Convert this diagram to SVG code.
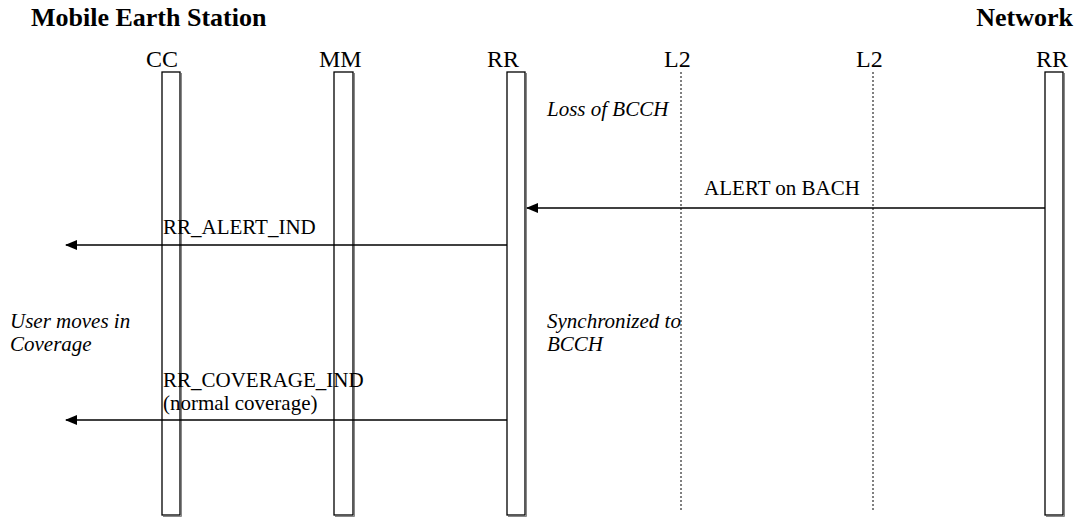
<svg xmlns="http://www.w3.org/2000/svg" width="1075" height="517" viewBox="0 0 1075 517">
<style>
.t{font-family:'Liberation Serif','Times New Roman',serif;fill:#000}
.h{font-size:26px;font-weight:bold}
.e{font-size:24px}
.m{font-size:21px}
.i{font-size:21px;font-style:italic}
.box{fill:#fff;stroke:#000;stroke-width:1.3}
.sh{fill:none;stroke:#888;stroke-width:1}
.dot{stroke:#000;stroke-width:1;stroke-dasharray:2,2}
.msg{stroke:#000;stroke-width:1.5;fill:none;marker-end:url(#ah)}
</style>
<defs>
<marker id="ah" markerWidth="12" markerHeight="10" refX="11" refY="5" orient="auto" markerUnits="userSpaceOnUse">
<path d="M0,0 L12,5 L0,10 z" fill="#000"/>
</marker>
</defs>
<rect width="1075" height="517" fill="#fff"/>
<text class="t h" x="31" y="26">Mobile Earth Station</text>
<text class="t h" x="1073" y="26" text-anchor="end">Network</text>
<g id="cc"><text class="t e" x="146" y="67">CC</text><path class="sh" d="M163,516.5 H181.5 V73"/><rect class="box" x="162" y="72" width="18" height="443"/></g>
<g id="mm"><text class="t e" x="319" y="67">MM</text><path class="sh" d="M335,516.5 H354.5 V73"/><rect class="box" x="334" y="72" width="19" height="443"/></g>
<g id="rr1"><text class="t e" x="487" y="67">RR</text><path class="sh" d="M508,516.5 H526.5 V73"/><rect class="box" x="507" y="72" width="18" height="443"/></g>
<g id="l2a"><text class="t e" x="664" y="67">L2</text><line class="dot" x1="681" y1="72" x2="681" y2="512"/></g>
<g id="l2b"><text class="t e" x="856" y="67">L2</text><line class="dot" x1="873" y1="72" x2="873" y2="512"/></g>
<g id="rr2"><text class="t e" x="1036" y="67">RR</text><path class="sh" d="M1046,516.5 H1064.5 V73"/><rect class="box" x="1045" y="72" width="18" height="443"/></g>
<g id="notes">
<text class="t i" x="547" y="116">Loss of BCCH</text>
<text class="t i" x="547" y="328">Synchronized to</text>
<text class="t i" x="547" y="351">BCCH</text>
<text class="t i" x="10" y="328">User moves in</text>
<text class="t i" x="10" y="351">Coverage</text>
</g>
<g id="connectors">
<line class="msg" x1="1045" y1="208" x2="527" y2="208"/>
<text class="t m" x="782" y="195" text-anchor="middle">ALERT on BACH</text>
<line class="msg" x1="507" y1="245" x2="66" y2="245"/>
<text class="t m" x="163" y="234">RR_ALERT_IND</text>
<line class="msg" x1="507" y1="420" x2="66" y2="420"/>
<text class="t m" x="163" y="387">RR_COVERAGE_IND</text>
<text class="t m" x="163" y="410">(normal coverage)</text>
</g>
</svg>
